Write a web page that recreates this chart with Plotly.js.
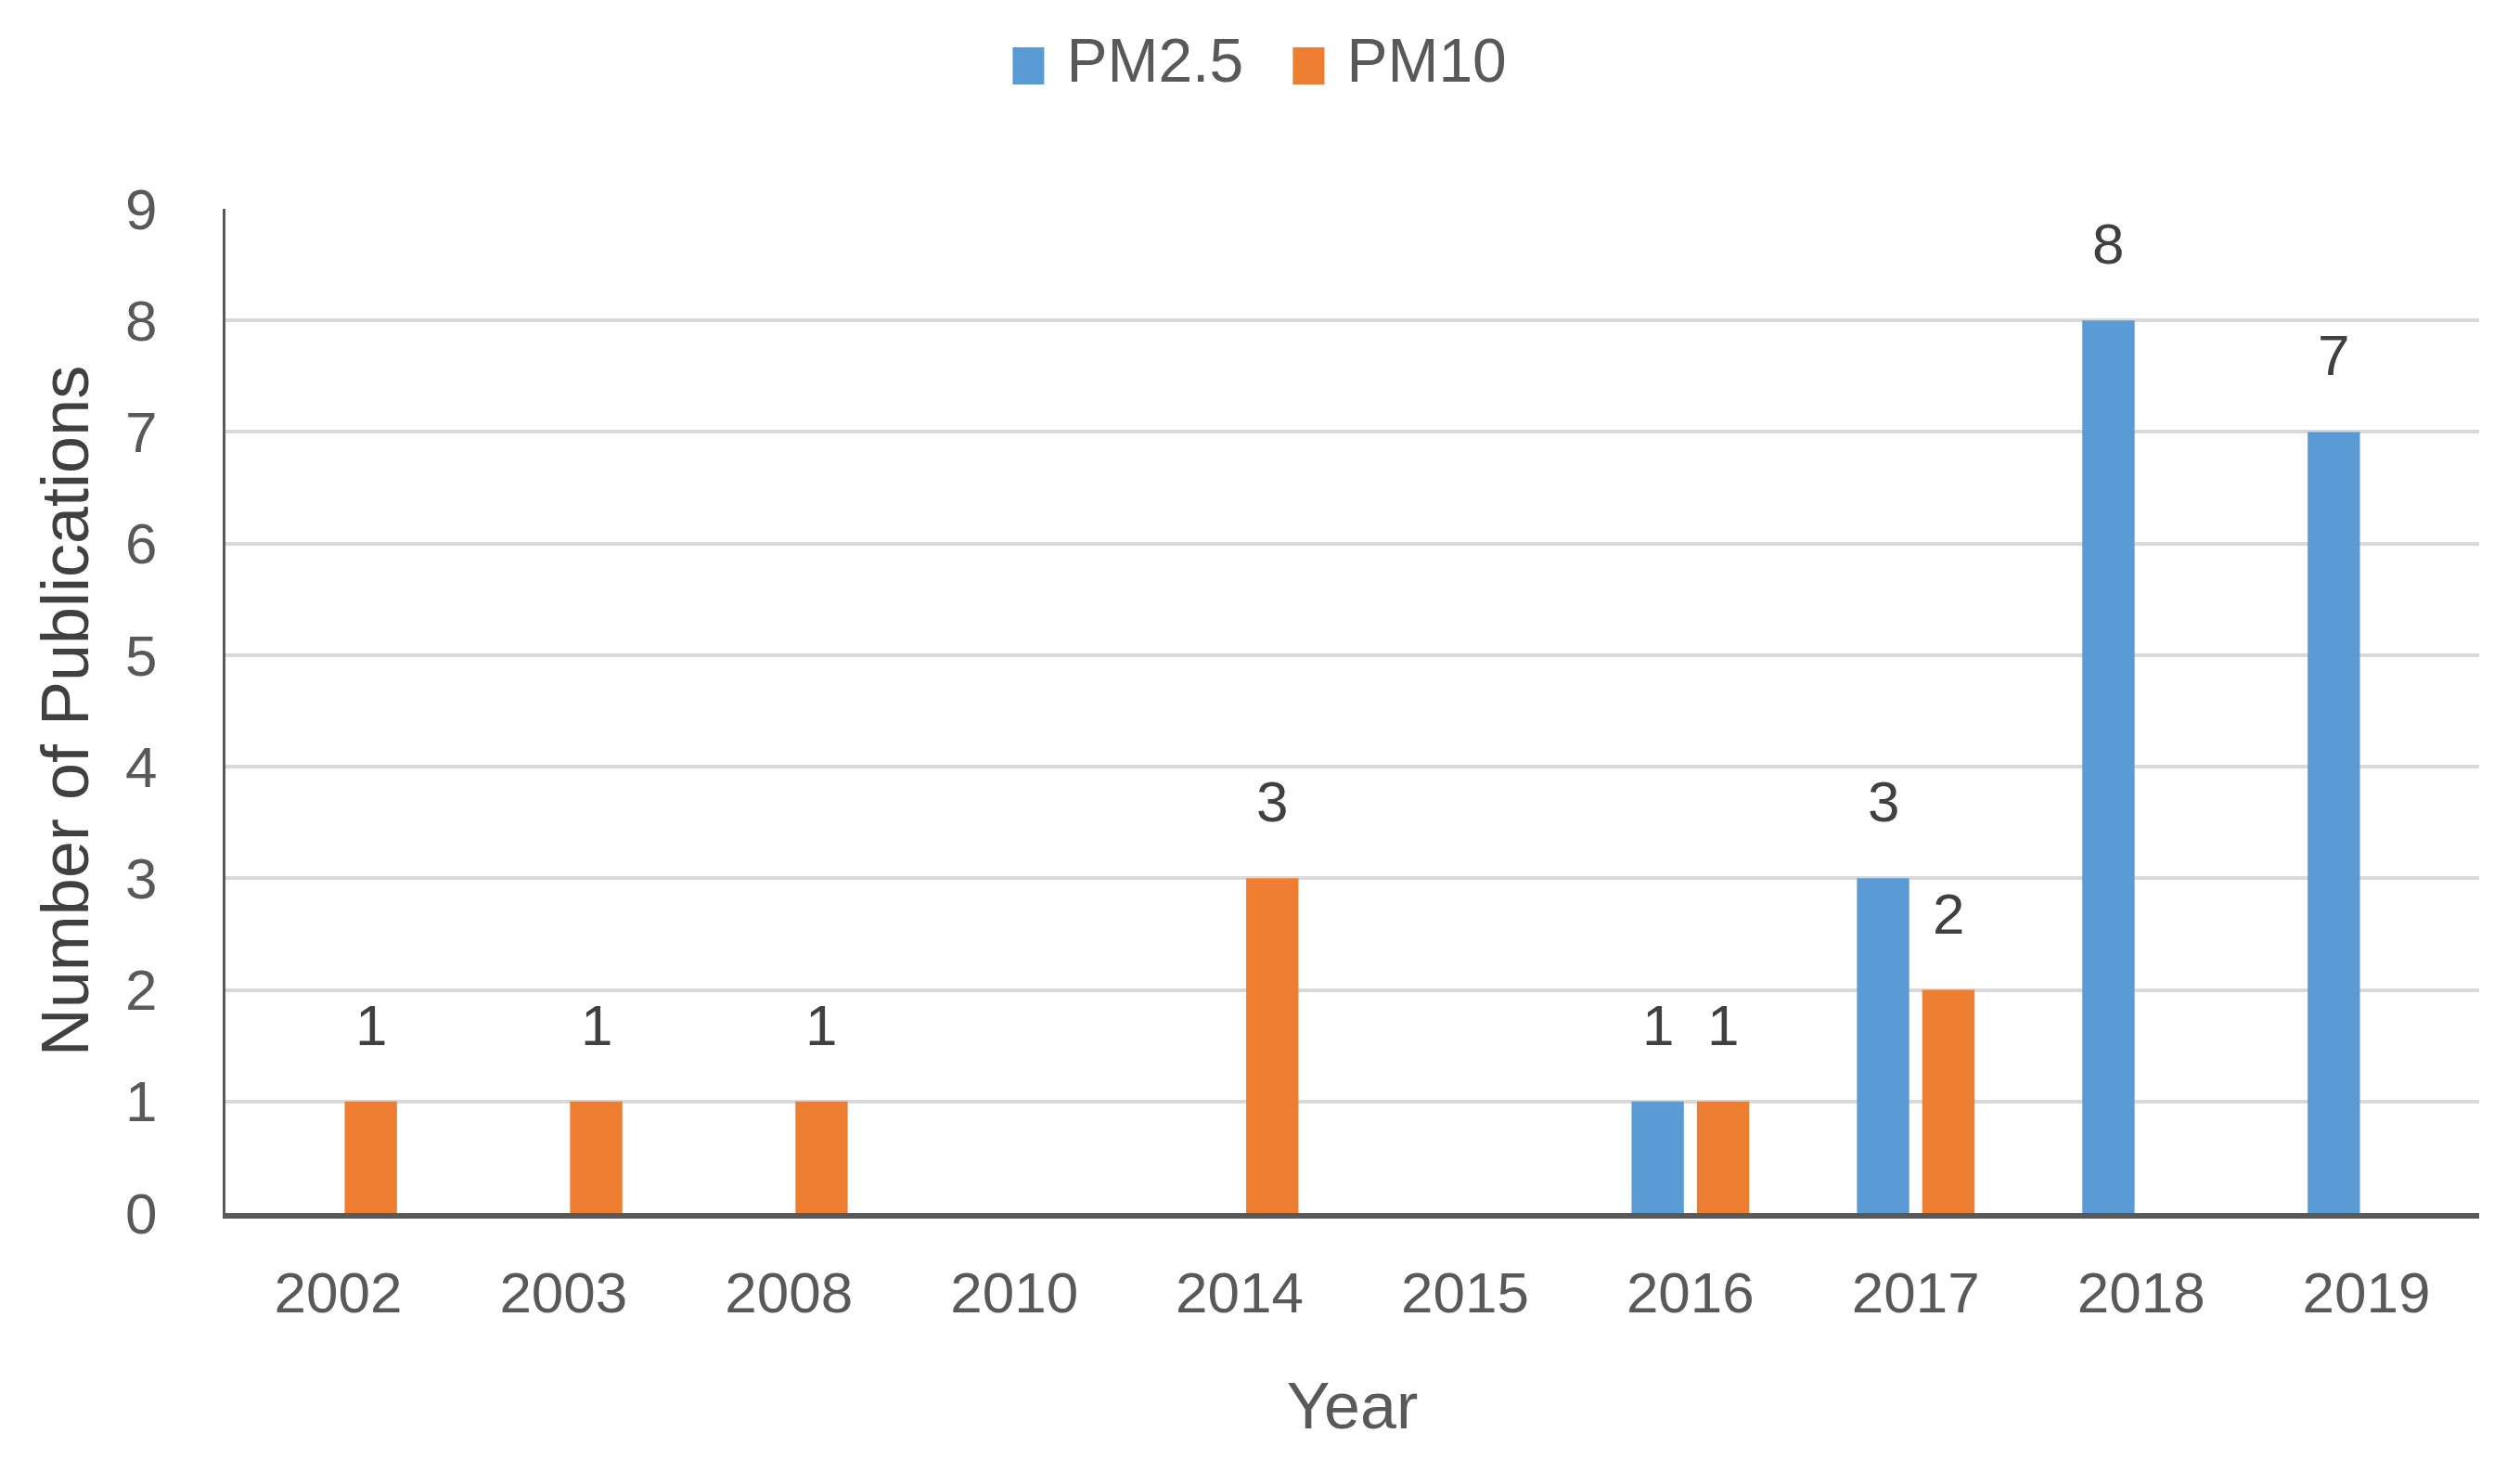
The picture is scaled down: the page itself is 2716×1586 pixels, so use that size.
<!DOCTYPE html>
<html>
<head>
<meta charset="utf-8">
<script src="https://cdn.plot.ly/plotly-3.0.1.min.js"></script>
<style>html,body{margin:0;padding:0;background:#fff;}#chart{width:2716px;height:1586px;}</style>
</head>
<body>
<div id="chart"></div>
<script>
const years = ['2002','2003','2008','2010','2014','2015','2016','2017','2018','2019'];
const pm25 = [0,0,0,0,0,0,1,3,8,7];
const pm10 = [1,1,1,0,3,0,1,2,0,0];
const yTicks = [0,1,2,3,4,5,6,7,8,9];

const FONT = 'Liberation Sans, Arial, sans-serif';
const BLUE = '#5b9bd5', ORANGE = '#ed7d31';
const W = 2716, H = 1586;
const M = {l:243, r:44, t:225, b:279};
const BARGAP = 0.42, BARGROUPGAP = 0.2;

const catW = (W - M.l - M.r) / years.length;
const half = (1 - BARGAP) * catW / 4;

const traces = [
  {type:'bar', name:'PM2.5', x:years, y:pm25, marker:{color:BLUE}, hoverinfo:'x+y'},
  {type:'bar', name:'PM10', x:years, y:pm10, marker:{color:ORANGE}, hoverinfo:'x+y'}
];

const annotations = [];
[[pm25,-half],[pm10,half]].forEach(([vals,shift]) => {
  vals.forEach((v,i) => {
    if (v > 0) annotations.push({
      x: i, y: v, xref:'x', yref:'y', text: String(v), showarrow:false,
      xanchor:'center', yanchor:'bottom', xshift: shift, yshift: 46,
      font:{family:FONT, size:62, color:'#404040'}
    });
  });
});

const layout = {
  width:W, height:H, margin:M, paper_bgcolor:'#fff', plot_bgcolor:'#fff',
  barmode:'group', bargap:BARGAP, bargroupgap:BARGROUPGAP,
  font:{family:FONT, color:'#595959'},
  showlegend:true,
  legend:{orientation:'h', xref:'container', yref:'container', x:0.5193, xanchor:'center', y:1-62/H, yanchor:'middle',
          font:{family:FONT, size:66, color:'#595959'}, itemwidth:31, entrywidth:256, entrywidthmode:'pixels',
          traceorder:'normal'},
  xaxis:{type:'category', range:[-0.5, years.length-0.5], autorange:false, showline:true, linecolor:'#595959', linewidth:6,
         ticks:'', showgrid:false,
         tickfont:{family:FONT, size:62, color:'#595959'}, ticklabelstandoff:27,
         title:{text:'Year', font:{family:FONT, size:70, color:'#595959'}, standoff:66}},
  yaxis:{range:[0,9], autorange:false, tickvals:yTicks, ticktext:yTicks.map(String), showline:true, linecolor:'#595959', linewidth:3,
         showgrid:true, gridcolor:'#d9d9d9', gridwidth:4, zeroline:false, ticks:'',
         tickfont:{family:FONT, size:62, color:'#595959'}, ticklabelstandoff:58,
         title:{text:'Number of Publications', font:{family:FONT, size:72, color:'#404040'}, standoff:16}},
  annotations: annotations
};

Plotly.newPlot('chart', traces, layout, {displayModeBar:false, staticPlot:true}).then(() => {
  document.querySelectorAll('#chart .legend [clip-path]').forEach(el => el.removeAttribute('clip-path'));
  document.querySelectorAll('#chart .legendpoints path').forEach(p => {
    p.setAttribute('d', 'M17,29H-17V-11H17Z');
    p.removeAttribute('transform');
  });
});
</script>
</body>
</html>
